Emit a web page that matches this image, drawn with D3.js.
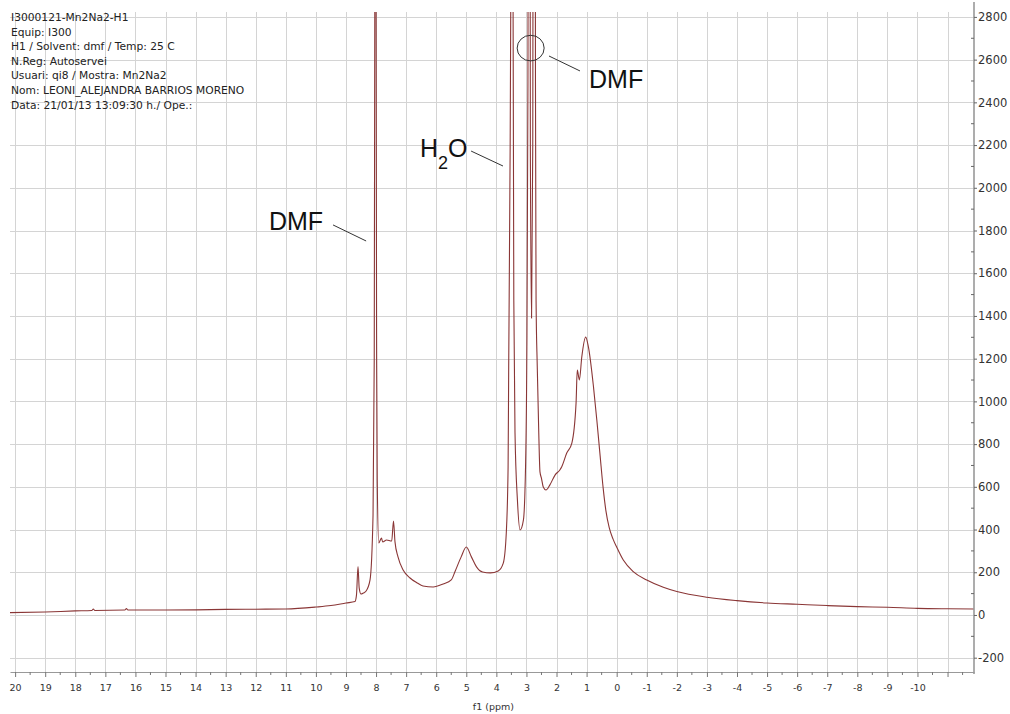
<!DOCTYPE html>
<html>
<head>
<meta charset="utf-8">
<script src="https://cdn.jsdelivr.net/npm/d3@7"></script>
<style>
  body { margin: 0; background: #fff; }
  .axis text { font-family: 'DejaVu Sans', sans-serif; fill: #333; }
  .header text { font-family: 'DejaVu Sans', sans-serif; fill: #222; }
  .note text { font-family: 'Liberation Sans', Arial, sans-serif; fill: #111; }
</style>
</head>
<body>
<div class="nmr-container"></div>
<script>
// spectrum values (chemical shift in ppm, intensity)
const shifts = [
    20.17, 19.0, 18.0, 17.45, 17.4, 17.35, 16.35, 16.3, 16.25, 15.0, 14.0, 13.0, 12.0, 11.0,
    10.0, 9.5, 9.0, 8.7, 8.65, 8.6, 8.56, 8.5, 8.42, 8.33, 8.2, 8.1, 8.06, 8.04, 8.02, 8.0,
    7.98, 7.96, 7.91, 7.82, 7.78, 7.65, 7.48, 7.42, 7.37, 7.27, 7.1, 6.87, 6.63, 6.44, 6.1,
    5.77, 5.5, 5.37, 5.17, 5.0, 4.83, 4.66, 4.46, 4.2, 3.94, 3.77, 3.67, 3.61, 3.59, 3.55,
    3.52, 3.48, 3.445, 3.42, 3.38, 3.3, 3.21, 3.1, 3.03, 2.99, 2.95, 2.92, 2.87, 2.83, 2.79,
    2.75, 2.7, 2.68, 2.64, 2.59, 2.55, 2.5, 2.44, 2.35, 2.22, 2.05, 1.89, 1.83, 1.66, 1.49,
    1.35, 1.31, 1.24, 1.16, 1.03, 0.94, 0.77, 0.66, 0.55, 0.45, 0.36, 0.25, 0.12, 0.0, -0.22,
    -0.55, -1.0, -1.55, -2.0, -3.0, -4.0, -5.0, -6.0, -7.0, -8.0, -9.0, -10.0, -11.0, -11.88
];
const intensities = [
    11, 14, 19, 21, 28, 21, 23, 30, 23, 23, 24, 26, 27, 28,
    37, 44, 56, 63, 94, 227, 126, 98, 103, 112, 164, 468, 1200, 3000, 14000, 3000,
    1200, 632, 337, 360, 342, 351, 346, 440, 342, 272, 211, 173, 150, 136, 131,
    145, 164, 205, 272, 318, 272, 225, 201, 197, 206, 243, 384, 693, 1161, 2000,
    2900, 9000, 2900, 1475, 852, 538, 398, 445, 693, 1161, 2500, 9000, 2200, 1390, 2200,
    9000, 2500, 1475, 1161, 852, 670, 640, 599, 585, 609, 655, 679, 693, 758, 805,
    993, 1147, 1100, 1208, 1301, 1255, 1067, 913, 745, 595, 490, 410, 355, 318, 257,
    203, 164, 130, 110, 83, 67, 56, 50, 44, 39, 36, 31, 29, 28
];

// tick labels
const xTickLabels = [20, 19, 18, 17, 16, 15, 14, 13, 12, 11, 10, 9, 8, 7, 6, 5, 4, 3, 2, 1, 0,
    -1, -2, -3, -4, -5, -6, -7, -8, -9, -10];
const yTickLabels = [-200, 0, 200, 400, 600, 800, 1000, 1200, 1400, 1600, 1800, 2000, 2200,
    2400, 2600, 2800];

// acquisition header
const headerLines = [
    'I3000121-Mn2Na2-H1',
    'Equip: I300',
    'H1 / Solvent: dmf / Temp: 25 C',
    'N.Reg: Autoservei',
    'Usuari: qi8 / Mostra: Mn2Na2',
    'Nom: LEONI_ALEJANDRA BARRIOS MORENO',
    'Data: 21/01/13 13:09:30 h./ Ope.:'
];

// peak labels, anchored in ppm / intensity
const noteLabels = ['DMF', 'H2O', 'DMF'];
const noteTextAt = [[11.56, 1802], [6.54, 2144], [0.92, 2467]];
const noteLineFrom = [[9.43, 1826], [4.84, 2172], [2.25, 2617]];
const noteLineTo = [[8.33, 1751], [3.78, 2102], [1.22, 2547]];
const circledPeak = [2.86, 2654];

function ready() {
    const W = 1010, H = 714;
    const plot = { left: 10, right: 974, top: 12, bottom: 672 };

    const spectrum = shifts.map((s, i) => ({ ppm: s, value: intensities[i] }));

    // ppm runs right to left
    const xScale = d3.scaleLinear().domain([20.17, -11.88]).range([plot.left, plot.right]);
    const yScale = d3.scaleLinear().domain([-267, 2823]).range([plot.bottom, plot.top]);

    const svg = d3.select('.nmr-container')
        .append('svg')
        .attr('width', W)
        .attr('height', H)
        .style('display', 'block');

    svg.append('rect').attr('width', W).attr('height', H).attr('fill', '#fff');

    svg.append('clipPath')
        .attr('id', 'plot-clip')
        .append('rect')
        .attr('x', plot.left)
        .attr('y', plot.top)
        .attr('width', plot.right - plot.left)
        .attr('height', plot.bottom - plot.top);

    // grid
    const gridX = xTickLabels.concat([-11]);
    svg.append('g')
        .selectAll('line')
        .data(gridX)
        .enter()
        .append('line')
            .attr('x1', d => Math.round(xScale(d)) + 0.5)
            .attr('x2', d => Math.round(xScale(d)) + 0.5)
            .attr('y1', plot.top)
            .attr('y2', plot.bottom)
            .attr('stroke', '#d4d4d4');

    svg.append('g')
        .selectAll('line')
        .data(yTickLabels)
        .enter()
        .append('line')
            .attr('x1', plot.left)
            .attr('x2', plot.right)
            .attr('y1', d => Math.round(yScale(d)) + 0.5)
            .attr('y2', d => Math.round(yScale(d)) + 0.5)
            .attr('stroke', '#d4d4d4');

    // spectrum trace
    const line = d3.line()
        .x(d => xScale(d.ppm))
        .y(d => yScale(d.value))
        .curve(d3.curveMonotoneX);

    svg.append('path')
        .datum(spectrum)
        .attr('clip-path', 'url(#plot-clip)')
        .attr('d', line)
        .attr('fill', 'none')
        .attr('stroke', '#8a3636')
        .attr('stroke-width', 1.1);

    // bottom axis: labels at whole ppm, unlabeled ticks at halves
    const xMajor = xTickLabels.concat([-11]);
    const xMinor = d3.range(19.5, -12, -1);

    const xAxis = d3.axisBottom(xScale)
        .tickValues(xMajor)
        .tickFormat(d => (d < -10 ? '' : String(d)))
        .tickSizeInner(5)
        .tickSizeOuter(0)
        .tickPadding(7);

    const xAxisDraw = svg.append('g')
        .attr('class', 'x axis')
        .attr('transform', `translate(0, ${plot.bottom})`)
        .call(xAxis);

    xAxisDraw.select('.domain').attr('stroke', '#999');
    xAxisDraw.selectAll('.tick line').attr('stroke', '#777');
    xAxisDraw.selectAll('text').attr('font-size', '9.5px');

    svg.append('g')
        .selectAll('line')
        .data(xMinor)
        .enter()
        .append('line')
            .attr('x1', d => xScale(d))
            .attr('x2', d => xScale(d))
            .attr('y1', plot.bottom)
            .attr('y2', plot.bottom + 3)
            .attr('stroke', '#777');

    svg.append('text')
        .attr('class', 'axis-title')
        .attr('x', xScale(4.1))
        .attr('y', 710)
        .attr('text-anchor', 'middle')
        .attr('font-family', 'DejaVu Sans, sans-serif')
        .attr('font-size', '9.5px')
        .attr('fill', '#333')
        .text('f1 (ppm)');

    // right axis
    const yAxis = d3.axisRight(yScale)
        .tickValues(yTickLabels)
        .tickFormat(d => String(d))
        .tickSizeInner(3)
        .tickSizeOuter(0)
        .tickPadding(1);

    const yAxisDraw = svg.append('g')
        .attr('class', 'y axis')
        .attr('transform', `translate(${plot.right}, 0)`)
        .call(yAxis);

    yAxisDraw.select('.domain')
        .attr('d', `M0,${plot.top - 10}V${plot.bottom + 2}`)
        .attr('stroke', '#999')
        .attr('stroke-width', 1.6);
    yAxisDraw.selectAll('.tick line').attr('stroke', '#666');
    yAxisDraw.selectAll('text').attr('font-size', '11.5px');

    const yMinor = d3.range(-100, 2800, 200);
    svg.append('g')
        .selectAll('line')
        .data(yMinor)
        .enter()
        .append('line')
            .attr('x1', plot.right - 3)
            .attr('x2', plot.right)
            .attr('y1', d => yScale(d))
            .attr('y2', d => yScale(d))
            .attr('stroke', '#666');

    // header block
    const header = svg.append('g')
        .attr('class', 'header')
        .append('text')
        .attr('font-size', '10.7px');

    header.selectAll('tspan')
        .data(headerLines)
        .enter()
        .append('tspan')
            .attr('x', 11)
            .attr('y', (d, i) => 21 + i * 14.6)
            .text(d => d);

    // peak annotations
    const notes = svg.append('g').attr('class', 'note');

    noteLabels.forEach((label, i) => {
        const [tp, tv] = noteTextAt[i];
        const t = notes.append('text')
            .attr('x', xScale(tp))
            .attr('y', yScale(tv))
            .attr('font-size', '25px');
        if (label === 'H2O') {
            t.append('tspan').text('H');
            t.append('tspan').attr('font-size', '18px').attr('dy', 12).text('2');
            t.append('tspan').attr('dy', -12).text('O');
        } else {
            t.text(label);
        }

        notes.append('line')
            .attr('x1', xScale(noteLineFrom[i][0]))
            .attr('y1', yScale(noteLineFrom[i][1]))
            .attr('x2', xScale(noteLineTo[i][0]))
            .attr('y2', yScale(noteLineTo[i][1]))
            .attr('stroke', '#333')
            .attr('stroke-width', 1);
    });

    notes.append('ellipse')
        .attr('cx', xScale(circledPeak[0]))
        .attr('cy', yScale(circledPeak[1]))
        .attr('rx', 13.5)
        .attr('ry', 12.8)
        .attr('fill', 'none')
        .attr('stroke', '#333')
        .attr('stroke-width', 1);
}

ready();
</script>
</body>
</html>
